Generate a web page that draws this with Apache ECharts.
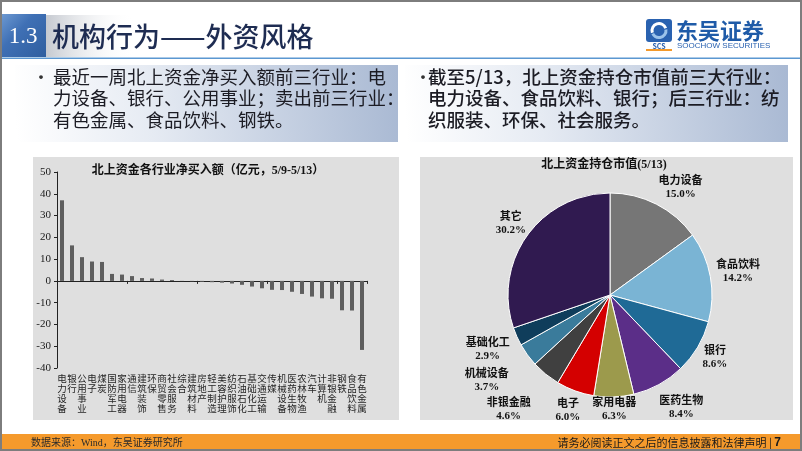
<!DOCTYPE html>
<html><head><meta charset="utf-8">
<script src="https://cdn.jsdelivr.net/npm/echarts@6/dist/echarts.min.js"></script>
<style>html,body{margin:0;padding:0;background:#fff}#c{width:802px;height:451px}</style>
</head><body><div id="c"></div>
<script>
// ---- data ----
const barCategories = ['电力设备','银行','公用事业','电子','煤炭','国防军工','家用电器','通信','建筑装饰','环保','商贸零售','社会服务','综合','建筑材料','房地产','轻工制造','美容护理','纺织服饰','石油石化','基础化工','交通运输','传媒','机械设备','医药生物','农林牧渔','汽车','计算机','非银金融','钢铁','食品饮料','有色金属'];
const barValues = [37.0,16.3,10.9,8.9,8.7,3.2,2.9,2.2,1.3,1.1,0.6,0.4,-0.1,-0.2,-0.4,-0.6,-0.8,-1.2,-1.8,-2.6,-3.4,-4.1,-4.2,-5.0,-6.0,-7.2,-8.0,-8.2,-13.5,-13.6,-31.7];
const yMin = -40, yMax = 50, yStep = 10;
const pieNames = ['电力设备','食品饮料','银行','医药生物','家用电器','电子','非银金融','机械设备','基础化工','其它'];
const pieValues = [15.0,14.2,8.6,8.4,6.3,6.0,4.6,3.7,2.9,30.2];
const barTitle = '北上资金各行业净买入额（亿元，5/9-5/13）';
const pieTitle = '北上资金持仓市值(5/13)';
const leftLines = ['最近一周北上资金净买入额前三行业：电','力设备、银行、公用事业；卖出前三行业：','有色金属、食品饮料、钢铁。'];
const rightLines = ['截至5/13，北上资金持仓市值前三大行业：','电力设备、食品饮料、银行；后三行业：纺','织服装、环保、社会服务。'];

// ---- styles ----
const pieColors = ['#767676','#7ab4d4','#1f6a96','#5b2e88','#9c9a4c','#d40000','#404040','#3a7b9b','#0f3d5b','#301a50'];
const pieLabelGap = [18,28,20,26,13,21,46,44,32,20];
const pieLabelShift = [16,0,0,10,0,0,8,5,0,0];
const SERIF = "'Liberation Serif','Noto Sans CJK SC',serif";
const CJK = "'Noto Sans CJK SC',sans-serif";

const chart = echarts.init(document.getElementById('c'), null, {renderer:'canvas'});

const boxGrad = () => new echarts.graphic.LinearGradient(0,0.7,1,0.2,[{offset:0,color:'#ffffff'},{offset:0.35,color:'#e6ebf3'},{offset:1,color:'#a9b9d3'}]);
const graphics = [
  {type:'rect', z:-10, shape:{x:33,y:157,width:366,height:263}, style:{fill:'#dfdfdf'}},
  {type:'rect', z:-10, shape:{x:420,y:157,width:373,height:263}, style:{fill:'#dfdfdf'}},
  {type:'rect', z:-10, shape:{x:15,y:65,width:383,height:77}, style:{fill:boxGrad()}},
  {type:'rect', z:-10, shape:{x:405,y:65,width:383,height:77}, style:{fill:boxGrad()}},
  {type:'text', z:5, style:{x:32,y:66,text:'•',font:"18px "+CJK,fill:'#333',lineHeight:21.5,verticalAlign:'top'}},
  {type:'text', z:5, style:{x:53,y:66,text:leftLines.join('\n'),font:"18.5px "+CJK,fill:'#1c1c24',lineHeight:21.5,verticalAlign:'top'}},
  {type:'text', z:5, style:{x:414,y:66,text:'•',font:"18px "+CJK,fill:'#333',lineHeight:21.5,verticalAlign:'top'}},
  {type:'text', z:5, style:{x:428,y:66,text:rightLines.join('\n'),font:"500 18.5px "+CJK,fill:'#1c1c24',lineHeight:21.5,verticalAlign:'top'}},
  {type:'rect', z:-9, shape:{x:45,y:15,width:90,height:42}, style:{fill:new echarts.graphic.LinearGradient(0,0,1,0,[{offset:0,color:'#c4c8cf'},{offset:1,color:'rgba(255,255,255,0)'}])}},
  {type:'rect', z:-8, shape:{x:0,y:14,width:46,height:43}, style:{fill:new echarts.graphic.LinearGradient(0,0,1,1,[{offset:0,color:'#6f9bd3'},{offset:0.4,color:'#3f70b5'},{offset:1,color:'#2f5e9f'}])}},
  {type:'text', z:5, style:{x:23,y:37,text:'1.3',font:"23px "+SERIF,fill:'#ffffff',align:'center',verticalAlign:'middle'}},
  {type:'text', z:5, style:{x:52,y:37,text:'机构行为——外资风格',font:"500 27px "+CJK,fill:'#1e2c52',verticalAlign:'middle'}},
  {type:'rect', z:-5, shape:{x:0,y:57.5,width:802,height:1.5}, style:{fill:'#5b97d1'}},
  {type:'rect', z:5, shape:{x:646,y:19,width:26,height:23,r:3}, style:{fill:'#2a62b0'}},
  {type:'arc', z:6, shape:{cx:659,cy:30.5,r:7,startAngle:Math.PI*0.9,endAngle:Math.PI*1.9}, style:{stroke:'#fff',lineWidth:3,fill:null}},
  {type:'arc', z:6, shape:{cx:659,cy:30.5,r:7,startAngle:Math.PI*1.95,endAngle:Math.PI*0.85}, style:{stroke:'#9cc3ea',lineWidth:3,fill:null}},
  {type:'text', z:5, style:{x:659,y:46,text:'SCS',font:"bold 7px "+CJK,fill:'#2a62b0',align:'center',verticalAlign:'middle'}},
  {type:'rect', z:5, shape:{x:646,y:49,width:26,height:2}, style:{fill:'#f39a2c'}},
  {type:'text', z:5, style:{x:676,y:31,text:'东吴证券',font:"bold 22px "+CJK,fill:'#1f5ba8',verticalAlign:'middle'}},
  {type:'text', z:5, style:{x:677,y:46,text:'SOOCHOW SECURITIES',font:"8px 'Liberation Sans',sans-serif",fill:'#2a62b0',verticalAlign:'middle'}},
  {type:'text', z:5, style:{x:208,y:171,text:barTitle,font:"bold 12px "+SERIF,fill:'#111',align:'center',verticalAlign:'middle'}},
  {type:'text', z:5, style:{x:604,y:165,text:pieTitle,font:"bold 12px "+SERIF,fill:'#111',align:'center',verticalAlign:'middle'}},
  {type:'rect', z:-10, shape:{x:0,y:434,width:802,height:17}, style:{fill:'#f59a2c'}},
  {type:'text', z:5, style:{x:31,y:443,text:'数据来源：Wind，东吴证券研究所',font:"10px "+SERIF,fill:'#2a2a2a',verticalAlign:'middle'}},
  {type:'text', z:5, style:{x:781,y:443,text:'{a|请务必阅读正文之后的信息披露和法律声明 | }{b|7}',align:'right',verticalAlign:'middle',
     rich:{a:{font:"11px "+CJK,fill:'#1a1a1a'},b:{font:"bold 12px 'Liberation Sans',sans-serif",fill:'#1a1a1a'}}}},
  {type:'rect', z:20, shape:{x:1,y:1,width:800,height:449}, style:{fill:null,stroke:'#7d7d7d',lineWidth:2}}
];

const option = {
  animation:false,
  backgroundColor:'#ffffff',
  graphic: graphics,
  grid:{left:57, top:172, width:310, height:196, containLabel:false},
  xAxis:[
    {type:'category', data:barCategories, position:'bottom',
     axisLine:{onZero:true, lineStyle:{color:'#222',width:1}},
     axisTick:{show:true,length:3,lineStyle:{color:'#222'}},
     axisLabel:{show:false}},
    {type:'category', data:barCategories, position:'bottom',
     axisLine:{show:false,onZero:false}, axisTick:{show:false},
     axisLabel:{show:true, interval:0, margin:6, fontSize:9.5, lineHeight:10, color:'#262626', fontFamily:SERIF,
       formatter:v=>v.split('').join('\n')}}
  ],
  yAxis:{type:'value', min:yMin, max:yMax, interval:yStep,
    axisLine:{show:true,lineStyle:{color:'#222',width:1}},
    axisTick:{show:true,length:3,lineStyle:{color:'#222'}},
    splitLine:{show:false},
    axisLabel:{fontSize:11,color:'#1a1a1a',fontFamily:SERIF,margin:6}},
  series:[
    {type:'bar', xAxisIndex:0, data:barValues, barWidth:4, itemStyle:{color:'#5e5e5e'}},
    {type:'pie', center:[610,295], radius:102, startAngle:90, clockwise:true, avoidLabelOverlap:false,
     data:pieNames.map((n,i)=>({name:n,value:pieValues[i],itemStyle:{color:pieColors[i]},
        labelLine:{length:pieLabelGap[i],length2:pieLabelShift[i]}})),
     itemStyle:{borderColor:'#ffffff',borderWidth:1},
     label:{show:true,position:'outside',distanceToLabelLine:0,
       formatter:p=>p.name+'\n'+p.value.toFixed(1)+'%',
       fontFamily:SERIF,fontWeight:'bold',fontSize:11,color:'#111',lineHeight:13},
     labelLine:{show:false,length:22,length2:0},
     labelLayout:function(){return {align:'center'};},
     emphasis:{disabled:true}}
  ]
};
chart.setOption(option);
</script></body></html>
